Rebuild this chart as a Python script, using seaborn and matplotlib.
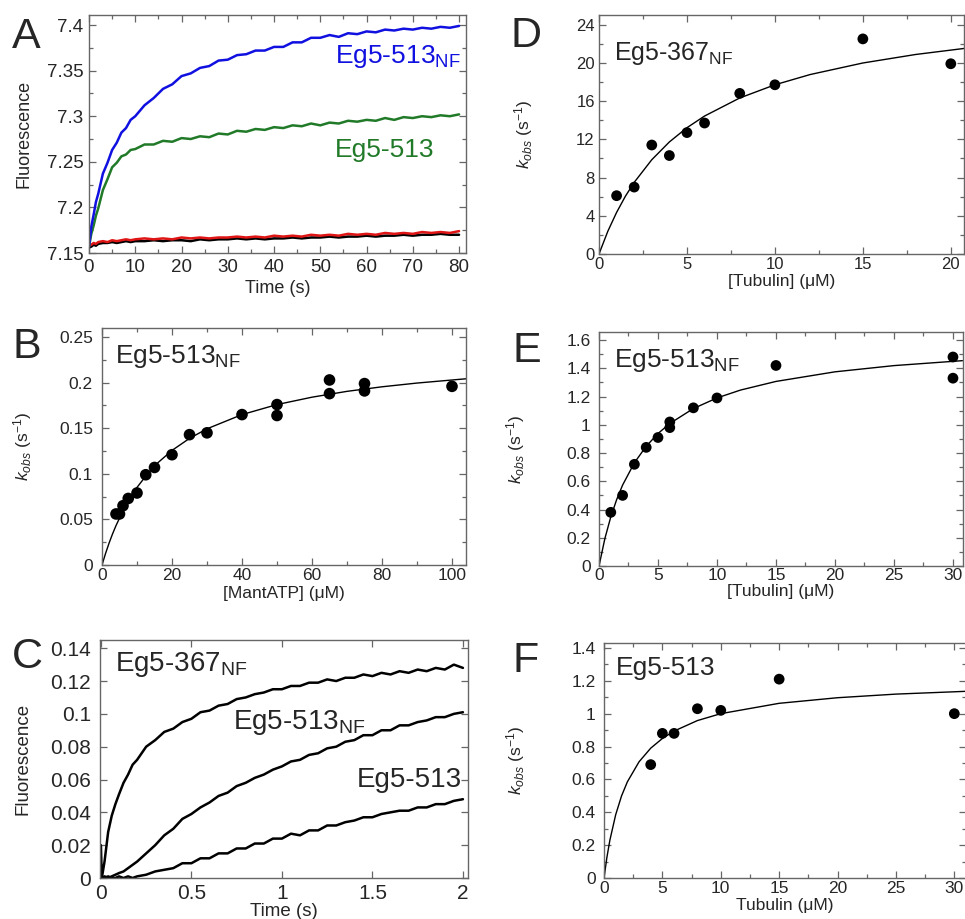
import seaborn as sns
import matplotlib
matplotlib.use("Agg")
import matplotlib.pyplot as plt
from matplotlib.ticker import MultipleLocator, FuncFormatter

W, H = 965, 919

# ---- panel A: fluorescence traces ----
a_time = [0, 0.5, 1, 1.5, 2, 3, 4, 5, 6, 7, 8, 9, 10, 12, 14, 16, 18, 20, 22, 24,
          26, 28, 30, 32, 34, 36, 38, 40, 42, 44, 46, 48, 50, 52, 54, 56, 58, 60,
          62, 64, 66, 68, 70, 72, 74, 76, 78, 80]
a_513nf = [7.157, 7.179, 7.192, 7.206, 7.215, 7.237, 7.249, 7.263, 7.271, 7.282,
           7.287, 7.296, 7.300, 7.312, 7.320, 7.330, 7.335, 7.344, 7.347, 7.353,
           7.355, 7.361, 7.362, 7.367, 7.368, 7.372, 7.372, 7.376, 7.376, 7.381,
           7.381, 7.386, 7.386, 7.389, 7.387, 7.391, 7.390, 7.393, 7.392, 7.395,
           7.394, 7.396, 7.395, 7.397, 7.396, 7.398, 7.397, 7.399]
a_513 = [7.157, 7.171, 7.180, 7.191, 7.199, 7.219, 7.231, 7.244, 7.249, 7.256,
         7.258, 7.263, 7.264, 7.269, 7.269, 7.273, 7.272, 7.276, 7.275, 7.278,
         7.277, 7.281, 7.280, 7.284, 7.283, 7.286, 7.285, 7.288, 7.287, 7.290,
         7.289, 7.292, 7.290, 7.293, 7.292, 7.295, 7.294, 7.296, 7.295, 7.298,
         7.296, 7.299, 7.298, 7.300, 7.299, 7.301, 7.300, 7.302]
a_red = [7.158, 7.159, 7.161, 7.160, 7.162, 7.163, 7.162, 7.164, 7.163, 7.164,
         7.165, 7.164, 7.165, 7.166, 7.165, 7.166, 7.165, 7.167, 7.166, 7.167,
         7.166, 7.167, 7.167, 7.168, 7.167, 7.168, 7.167, 7.169, 7.168, 7.169,
         7.168, 7.170, 7.169, 7.170, 7.169, 7.171, 7.170, 7.171, 7.170, 7.172,
         7.171, 7.172, 7.171, 7.173, 7.172, 7.173, 7.172, 7.174]
a_black = [7.156, 7.157, 7.159, 7.158, 7.160, 7.161, 7.161, 7.162, 7.161, 7.162,
           7.163, 7.162, 7.163, 7.163, 7.164, 7.163, 7.164, 7.164, 7.163, 7.165,
           7.164, 7.165, 7.165, 7.166, 7.165, 7.166, 7.165, 7.166, 7.166, 7.167,
           7.166, 7.167, 7.167, 7.168, 7.167, 7.168, 7.168, 7.169, 7.168, 7.169,
           7.169, 7.170, 7.169, 7.170, 7.170, 7.171, 7.170, 7.170]

# ---- panel B: kobs vs MantATP ----
b_conc = [4, 5, 6, 7.5, 10, 12.5, 15, 20, 25, 30, 40, 50, 50, 65, 65, 75, 75, 100]
b_kobs = [0.056, 0.056, 0.065, 0.073, 0.079, 0.099, 0.107, 0.121, 0.143, 0.145,
          0.165, 0.176, 0.164, 0.203, 0.188, 0.199, 0.191, 0.196]
b_fit_x = [0, 1, 2, 3, 4, 6, 8, 10, 13, 16, 20, 25, 30, 40, 50, 60, 70, 80, 90, 104]
b_fit_y = [0, 0.0125, 0.0238, 0.034, 0.0432, 0.0595, 0.0733, 0.0851, 0.100, 0.1123,
           0.1257, 0.1389, 0.1494, 0.165, 0.176, 0.1841, 0.1905, 0.1955, 0.1996, 0.2043]

# ---- panel C: fluorescence traces, short time ----
c_time = [0, 0.005, 0.02, 0.04, 0.06, 0.08, 0.1, 0.125, 0.15, 0.175, 0.2, 0.25, 0.3,
          0.35, 0.4, 0.45, 0.5, 0.55, 0.6, 0.65, 0.7, 0.75, 0.8, 0.85, 0.9, 0.95, 1.0,
          1.05, 1.1, 1.15, 1.2, 1.25, 1.3, 1.35, 1.4, 1.45, 1.5, 1.55, 1.6, 1.65, 1.7,
          1.75, 1.8, 1.85, 1.9, 1.95, 2.0]
c_367nf = [0.020, 0.000, 0.010, 0.028, 0.038, 0.045, 0.051, 0.058, 0.063, 0.069, 0.072,
           0.080, 0.084, 0.089, 0.091, 0.095, 0.097, 0.101, 0.102, 0.105, 0.106,
           0.109, 0.110, 0.112, 0.113, 0.115, 0.115, 0.117, 0.117, 0.119, 0.119,
           0.121, 0.120, 0.122, 0.122, 0.124, 0.123, 0.125, 0.124, 0.126, 0.125,
           0.127, 0.126, 0.128, 0.127, 0.130, 0.128]
c_513nf = [0.000, 0.000, 0.001, 0.000, 0.001, 0.002, 0.003, 0.004, 0.006, 0.008, 0.010,
           0.015, 0.020, 0.026, 0.030, 0.036, 0.039, 0.043, 0.046, 0.050, 0.052,
           0.056, 0.058, 0.061, 0.063, 0.066, 0.068, 0.071, 0.072, 0.075, 0.076,
           0.079, 0.080, 0.083, 0.084, 0.087, 0.087, 0.090, 0.090, 0.093, 0.093,
           0.095, 0.096, 0.098, 0.098, 0.100, 0.101]
c_513 = [0.000, 0.000, 0.000, 0.001, 0.000, 0.000, 0.001, 0.000, 0.001, 0.000, 0.001,
         0.002, 0.004, 0.005, 0.006, 0.009, 0.009, 0.012, 0.012, 0.015, 0.015,
         0.018, 0.018, 0.021, 0.021, 0.024, 0.024, 0.027, 0.026, 0.029, 0.029,
         0.032, 0.032, 0.034, 0.035, 0.037, 0.037, 0.039, 0.040, 0.041, 0.041,
         0.043, 0.043, 0.045, 0.045, 0.047, 0.048]

# ---- panel D: Eg5-367NF kobs vs tubulin ----
d_tub = [1, 2, 3, 4, 5, 6, 8, 10, 15, 20]
d_kobs = [6.1, 7.0, 11.4, 10.3, 12.7, 13.7, 16.8, 17.7, 22.5, 19.9]
d_fit_x = [0, 0.5, 1, 1.5, 2, 3, 4, 5, 6, 8, 10, 12, 15, 18, 20.75]
d_fit_y = [0, 2.37, 4.35, 6.04, 7.49, 9.86, 11.72, 13.21, 14.43, 16.32, 17.7,
           18.77, 19.98, 20.87, 21.5]

# ---- panel E: Eg5-513NF kobs vs tubulin ----
e_tub = [1, 2, 3, 4, 5, 6, 6, 8, 10, 15, 30, 30]
e_kobs = [0.38, 0.50, 0.72, 0.84, 0.91, 0.98, 1.02, 1.12, 1.19, 1.42, 1.48, 1.33]
e_fit_x = [0, 0.5, 1, 1.5, 2, 3, 4, 5, 6, 8, 10, 12, 15, 20, 25, 30.8]
e_fit_y = [0, 0.195, 0.348, 0.471, 0.573, 0.731, 0.848, 0.938, 1.009, 1.115, 1.19,
           1.246, 1.307, 1.375, 1.419, 1.454]

# ---- panel F: Eg5-513 kobs vs tubulin ----
f_tub = [4, 5, 6, 8, 10, 15, 30]
f_kobs = [0.69, 0.88, 0.88, 1.03, 1.02, 1.21, 1.00]
f_fit_x = [0, 0.25, 0.5, 1, 1.5, 2, 3, 4, 5, 6, 8, 10, 15, 20, 25, 31]
f_fit_y = [0, 0.126, 0.229, 0.385, 0.499, 0.585, 0.707, 0.790, 0.849, 0.894, 0.958,
           1.0, 1.063, 1.097, 1.119, 1.136]

sns.set_style("ticks")
plt.rcParams["font.family"] = ["Liberation Sans", "DejaVu Sans"]
plt.rcParams["mathtext.fontset"] = "custom"
plt.rcParams["mathtext.rm"] = "Liberation Sans"
plt.rcParams["mathtext.it"] = "Liberation Sans:italic"

SPINE = "#666666"
KOBS = r"$k_{obs}$ (s$^{-1}$)"
NF = r"$_{\mathrm{NF}}$"


def box(l, r, t, b):
    return [l / W, 1 - b / H, (r - l) / W, (b - t) / H]


def style(ax, mx, nx, my, ny, size, xpad, ypad):
    ax.xaxis.set_major_locator(MultipleLocator(mx))
    ax.yaxis.set_major_locator(MultipleLocator(my))
    if nx:
        ax.xaxis.set_minor_locator(MultipleLocator(nx))
    if ny:
        ax.yaxis.set_minor_locator(MultipleLocator(ny))
    fmt = FuncFormatter(lambda v, p: f"{round(v, 6):g}")
    ax.xaxis.set_major_formatter(fmt)
    ax.yaxis.set_major_formatter(fmt)
    ax.tick_params(which="both", direction="in", top=True, right=True,
                   color=SPINE, width=0.9, labelsize=size)
    ax.tick_params(axis="x", which="both", pad=xpad)
    ax.tick_params(axis="y", which="both", pad=ypad)
    ax.tick_params(which="major", length=5)
    ax.tick_params(which="minor", length=3)
    for s in ax.spines.values():
        s.set_color(SPINE)
        s.set_linewidth(1.0)


def line(ax, x, y, color="black", lw=1.0):
    sns.lineplot(x=x, y=y, ax=ax, color=color, lw=lw, estimator=None, sort=False)


def dots(ax, x, y, s=70):
    sns.scatterplot(x=x, y=y, ax=ax, color="black", s=s, edgecolor="none", zorder=3)


fig = plt.figure(figsize=(W / 100, H / 100), dpi=100)

# A
ax = fig.add_axes(box(89, 466, 15, 253))
line(ax, a_time, a_black, "black", 1.8)
line(ax, a_time, a_red, "#e01515", 1.8)
line(ax, a_time, a_513, "#207a28", 1.8)
line(ax, a_time, a_513nf, "#1010e0", 1.8)
ax.set_xlim(0, 81.5)
ax.set_ylim(7.15, 7.411)
style(ax, 10, 5, 0.05, 0.025, 13.5, 4.5, 4)
ax.text(53.2, 7.365, "Eg5-513" + NF, color="#1010e0", fontsize=19, va="center")
ax.text(53.2, 7.263, "Eg5-513", color="#207a28", fontsize=19, va="center")
ax.set_xlabel("Time (s)", fontsize=13)
ax.set_ylabel("Fluorescence", fontsize=13)
ax.yaxis.set_label_coords(-0.151, 0.5)
ax.xaxis.set_label_coords(0.5, -0.112)

# B
ax = fig.add_axes(box(102, 466, 328, 565))
line(ax, b_fit_x, b_fit_y)
dots(ax, b_conc, b_kobs)
ax.set_xlim(0, 104)
ax.set_ylim(0, 0.26)
style(ax, 20, 10, 0.05, 0.025, 12.5, 2, 6.5)
ax.text(0.036, 0.88, "Eg5-513" + NF, transform=ax.transAxes, fontsize=19, va="center")
ax.set_xlabel("[MantATP] (μM)", fontsize=12.5)
ax.set_ylabel(KOBS, fontsize=12.5)
ax.yaxis.set_label_coords(-0.187, 0.5)
ax.xaxis.set_label_coords(0.5, -0.09)

# C
ax = fig.add_axes(box(100, 468, 640, 878))
line(ax, c_time, c_513, "black", 1.8)
line(ax, c_time, c_513nf, "black", 1.8)
line(ax, c_time, c_367nf, "black", 1.8)
ax.set_xlim(-0.005, 2.028)
ax.set_ylim(0, 0.145)
style(ax, 0.5, None, 0.02, None, 15, 4, 6.5)
ax.text(0.04, 0.895, "Eg5-367" + NF, transform=ax.transAxes, fontsize=20, va="center")
ax.text(0.73, 0.095, "Eg5-513" + NF, fontsize=20, va="center")
ax.text(1.414, 0.0597, "Eg5-513", fontsize=20, va="center")
ax.set_xlabel("Time (s)", fontsize=13.5)
ax.set_ylabel("Fluorescence", fontsize=13.5)
ax.yaxis.set_label_coords(-0.185, 0.5)
ax.xaxis.set_label_coords(0.5, -0.105)

# D
ax = fig.add_axes(box(599, 964, 15, 254))
line(ax, d_fit_x, d_fit_y)
dots(ax, d_tub, d_kobs, 60)
ax.set_xlim(0, 20.75)
ax.set_ylim(0, 25)
style(ax, 5, 2.5, 4, 2, 12, 2, 3)
ax.text(0.041, 0.84, "Eg5-367" + NF, transform=ax.transAxes, fontsize=18, va="center")
ax.set_xlabel("[Tubulin] (μM)", fontsize=12.5)
ax.set_ylabel(KOBS, fontsize=12.5)
ax.yaxis.set_label_coords(-0.175, 0.5)
ax.xaxis.set_label_coords(0.5, -0.084)

# E
ax = fig.add_axes(box(599, 963, 332, 566))
line(ax, e_fit_x, e_fit_y)
dots(ax, e_tub, e_kobs, 60)
ax.set_xlim(0, 30.85)
ax.set_ylim(0, 1.657)
style(ax, 5, 2.5, 0.2, 0.1, 12.5, 1.5, 6)
ax.text(0.041, 0.88, "Eg5-513" + NF, transform=ax.transAxes, fontsize=19, va="center")
ax.set_xlabel("[Tubulin] (μM)", fontsize=12.5)
ax.set_ylabel(KOBS, fontsize=12.5)
ax.yaxis.set_label_coords(-0.198, 0.5)
ax.xaxis.set_label_coords(0.5, -0.075)

# F
ax = fig.add_axes(box(604, 966, 643, 878))
line(ax, f_fit_x, f_fit_y)
dots(ax, f_tub, f_kobs, 60)
ax.set_xlim(0, 31)
ax.set_ylim(0, 1.43)
style(ax, 5, 2.5, 0.2, 0.1, 12.5, 2, 6)
ax.text(0.033, 0.894, "Eg5-513", transform=ax.transAxes, fontsize=19, va="center")
ax.set_xlabel("Tubulin (μM)", fontsize=12.5)
ax.set_ylabel(KOBS, fontsize=12.5)
ax.yaxis.set_label_coords(-0.213, 0.5)
ax.xaxis.set_label_coords(0.5, -0.085)

# panel letters
for letter, x, y in [("A", 12, 48), ("B", 12, 358), ("C", 12, 668),
                     ("D", 510, 47), ("E", 512, 362), ("F", 512, 672)]:
    fig.text(x / W, 1 - y / H, letter, fontsize=31, va="baseline", ha="left")

fig.savefig("out.png", dpi=100)
plt.close(fig)
